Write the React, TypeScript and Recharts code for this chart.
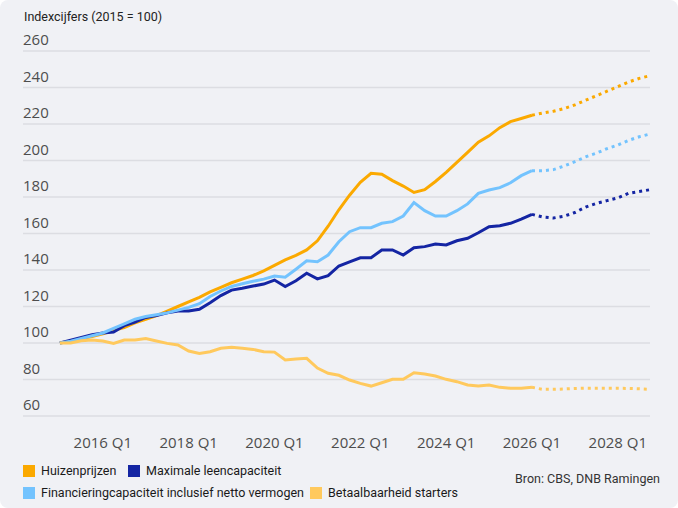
import { LineChart, Line, XAxis, YAxis, CartesianGrid } from "recharts"

// index 2015 Q1 = 0 ... 2028 Q4 = 55; realisatie t/m 2026 Q1 (index 44)
const years = [2015, 2016, 2017, 2018, 2019, 2020, 2021, 2022, 2023, 2024, 2025, 2026, 2027, 2028]
const quarters = years.flatMap((y) => ["Q1", "Q2", "Q3", "Q4"].map((q) => `${y} ${q}`))
const lastActual = 44

const huizenprijzen = [
  100, 101, 102.5, 103.5, 105, 107, 108.5, 111, 113, 115, 117.5, 120, 122.5, 125, 128, 130.5,
  133, 135, 137, 139.5, 142.5, 145.5, 148, 151, 156, 164, 173, 181, 188, 193, 192.5, 189,
  186, 182.5, 184, 188.5, 193.5, 199, 204.5, 210, 213.5, 218, 221.3, 223, 224.8, 226, 227,
  228.5, 230.5, 233, 235.5, 238, 240.5, 243, 245, 246.5,
]
const leencapaciteit = [
  100, 101.5, 103, 104.5, 105.5, 106, 109.5, 111.5, 114, 115, 116.5, 117.5, 117.5, 118.5, 122,
  126, 129, 130, 131.2, 132.3, 134.5, 130.9, 134.1, 138.2, 135.1, 136.9, 142.2, 144.5, 146.7,
  146.7, 151, 151, 148.2, 152.2, 152.8, 154.2, 153.7, 156, 157.4, 160.4, 163.7, 164.3, 165.6,
  167.9, 170.5, 169, 168.5, 169.5, 171.5, 174.5, 176.5, 178, 179.5, 182, 183, 184,
]
const financiering = [
  100, 101, 102.5, 104, 105.5, 108, 110.5, 113, 114.5, 115.5, 116.5, 118, 119.5, 121.5, 125.5,
  128.5, 131, 132.5, 133.8, 135, 136.7, 136, 140.4, 145, 144.5, 148.2, 155.5, 161, 163.2, 163.2,
  165.6, 166.5, 169.6, 176.9, 172.5, 169.6, 169.6, 172.5, 176.2, 182, 183.8, 185.1, 187.8, 191.7,
  194.4, 194.4, 195, 197, 199.4, 202, 204, 206.5, 208.5, 211, 213, 214.5,
]
const betaalbaarheid = [
  100, 100, 101.2, 101.6, 101.1, 99.8, 101.6, 101.6, 102.4, 101.1, 99.8, 98.9, 95.6, 94.3, 95.2,
  97.1, 97.6, 97.1, 96.5, 95.2, 95, 90.7, 91.2, 91.6, 86.3, 83.4, 82.3, 79.7, 77.9, 76.4, 78.2,
  80.1, 80.1, 83.7, 83, 81.9, 80.1, 78.8, 77, 76.4, 77, 75.7, 75.2, 75.2, 75.7, 74.6, 74.6, 74.8,
  75.1, 75.2, 75.2, 75.2, 75.2, 75.1, 74.9, 74.6,
]

const yTicks = [60, 80, 100, 120, 140, 160, 180, 200, 220, 240, 260]
const xTicks = ["2016 Q1", "2018 Q1", "2020 Q1", "2022 Q1", "2024 Q1", "2026 Q1", "2028 Q1"]

const series = [
  { key: "huis", name: "Huizenprijzen", color: "#FBA900", values: huizenprijzen },
  { key: "leen", name: "Maximale leencapaciteit", color: "#1425A3", values: leencapaciteit },
  { key: "fin", name: "Financieringcapaciteit inclusief netto vermogen", color: "#73C3FE", values: financiering },
  { key: "betaal", name: "Betaalbaarheid starters", color: "#FFC95D", values: betaalbaarheid },
]

const data = quarters.map((q, i) => {
  const row: Record<string, number | string | null> = { i, q }
  series.forEach((s) => {
    row[s.key] = i <= lastActual ? s.values[i] : null
    row[s.key + "F"] = i >= lastActual ? s.values[i] : null
  })
  return row
})

const tickFont = "'Open Sans', sans-serif"
const textFont = "Roboto, sans-serif"

function YTick({ y, payload }: any) {
  return (
    <text x={23} y={y - 6} textAnchor="start" fontSize={15} fill="#4d4d4d" fontFamily={tickFont}>
      {payload.value}
    </text>
  )
}

function XTick({ x, y, payload }: any) {
  return (
    <text x={x} y={y + 24} textAnchor="middle" fontSize={15} fill="#4d4d4d" fontFamily={tickFont}>
      {quarters[payload.value]}
    </text>
  )
}

function LegendItem({ color, name, left, top }: { color: string; name: string; left: number; top: number }) {
  return (
    <div style={{ position: "absolute", left, top, display: "flex", alignItems: "center", whiteSpace: "nowrap" }}>
      <span style={{ width: 12, height: 12, background: color, marginRight: 6, display: "inline-block" }} />
      <span style={{ fontSize: 12.5, color: "#1a1a1a" }}>{name}</span>
    </div>
  )
}

export default function App() {
  return (
    <div
      style={{
        position: "relative",
        width: 678,
        height: 508,
        background: "#F0F1F5",
        borderRadius: 8,
        fontFamily: textFont,
        overflow: "hidden",
      }}
    >
      <style>{`body{margin:0}`}</style>
      <div style={{ position: "absolute", left: 24, top: 9, fontSize: 12.5, color: "#222" }}>
        Indexcijfers (2015 = 100)
      </div>
      <LineChart width={678} height={508} data={data} margin={{ top: 51, right: 28, bottom: 62, left: 23 }}>
        <CartesianGrid vertical={false} stroke="#DCDDE2" strokeWidth={1.5} />
        <XAxis
          dataKey="i"
          type="number"
          domain={[-3.44, 55]}
          ticks={xTicks.map((t) => quarters.indexOf(t))}
          tick={<XTick />}
          axisLine={false}
          tickLine={false}
          height={30}
        />
        <YAxis
          domain={[60, 260]}
          ticks={yTicks}
          tick={<YTick />}
          axisLine={false}
          tickLine={false}
          mirror
          width={40}
          interval={0}
        />
        {series.map((s) => (
          <Line
            key={s.key}
            dataKey={s.key}
            stroke={s.color}
            strokeWidth={3}
            dot={false}
            type="linear"
            isAnimationActive={false}
          />
        ))}
        {series.map((s) => (
          <Line
            key={s.key + "F"}
            dataKey={s.key + "F"}
            stroke={s.color}
            strokeWidth={3}
            strokeDasharray="3 4"
            dot={false}
            type="linear"
            isAnimationActive={false}
          />
        ))}
      </LineChart>
      <LegendItem color={series[0].color} name={series[0].name} left={23} top={463} />
      <LegendItem color={series[1].color} name={series[1].name} left={128} top={463} />
      <LegendItem color={series[2].color} name={series[2].name} left={23} top={485} />
      <LegendItem color={series[3].color} name={series[3].name} left={310} top={485} />
      <div style={{ position: "absolute", right: 18, top: 471, fontSize: 12.5, color: "#333" }}>
        Bron: CBS, DNB Ramingen
      </div>
    </div>
  )
}
